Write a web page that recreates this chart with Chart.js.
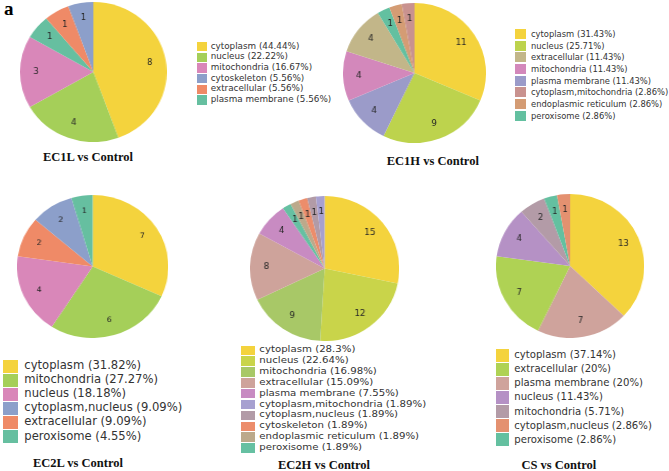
<!DOCTYPE html>
<html>
<head>
<meta charset="utf-8">
<script src="https://cdn.jsdelivr.net/npm/chart.js@4.4.1/dist/chart.umd.min.js"></script>
<style>
  html, body { margin: 0; padding: 0; background: #fff; }
  #page { position: relative; width: 669px; height: 471px; overflow: hidden; font-family: "DejaVu Sans", sans-serif; }
  .pie { position: absolute; transform-origin: left top; }
  .swatch { position: absolute; }
  .item { position: absolute; color: #333; white-space: nowrap; line-height: 1; transform-origin: left center; }
  .title { position: absolute; font-family: "Liberation Serif", serif; font-weight: bold; color: #111; white-space: nowrap; transform: translate(-50%, -50%); }
  #panel-a { position: absolute; left: 4px; top: -2px; font-family: "Liberation Serif", serif; font-weight: bold; font-size: 19px; }
</style>
</head>
<body>
<div id="page">
  <div id="panel-a">a</div>
</div>
<script>
// legend order for each comparison, counts per location
const ec1lLabels = ['cytoplasm', 'nucleus', 'mitochondria', 'cytoskeleton', 'extracellular', 'plasma membrane'];
const ec1lValues = [8, 4, 3, 1, 1, 1];
const ec1lColors = ['#f4d33d', '#a5cf59', '#d987b9', '#8c9fca', '#ef8a67', '#66bfa0'];

const ec1hLabels = ['cytoplasm', 'nucleus', 'extracellular', 'mitochondria', 'plasma membrane', 'cytoplasm,mitochondria', 'endoplasmic reticulum', 'peroxisome'];
const ec1hValues = [11, 9, 4, 4, 4, 1, 1, 1];
const ec1hColors = ['#f4d33d', '#bdd34d', '#c2b689', '#d388bb', '#9b9bc9', '#c9928f', '#d49c74', '#63c0a0'];

const ec2lLabels = ['cytoplasm', 'mitochondria', 'nucleus', 'cytoplasm,nucleus', 'extracellular', 'peroxisome'];
const ec2lValues = [7, 6, 4, 2, 2, 1];
const ec2lColors = ['#f4d33d', '#a5cf59', '#d987b9', '#8c9fca', '#ef8a67', '#66bfa0'];

const ec2hLabels = ['cytoplasm', 'nucleus', 'mitochondria', 'extracellular', 'plasma membrane', 'cytoplasm,mitochondria', 'cytoplasm,nucleus', 'cytoskeleton', 'endoplasmic reticulum', 'peroxisome'];
const ec2hValues = [15, 12, 9, 8, 4, 1, 1, 1, 1, 1];
const ec2hColors = ['#f4d33d', '#c9d44a', '#a8c867', '#cea39b', '#c88bc2', '#a7a0d0', '#b29ba7', '#ec8d6b', '#bca98b', '#66c0a2'];

const csLabels = ['cytoplasm', 'extracellular', 'plasma membrane', 'nucleus', 'mitochondria', 'cytoplasm,nucleus', 'peroxisome'];
const csValues = [13, 7, 7, 4, 2, 1, 1];
const csColors = ['#f4d33d', '#afd254', '#cfa39c', '#b591c5', '#b39ba7', '#e49170', '#64c0a0'];

const titles = ['EC1L vs Control', 'EC1H vs Control', 'EC2L vs Control', 'EC2H vs Control', 'CS vs Control'];

// layout for each panel (pie box, legend, title)
const panels = [
  { labels: ec1lLabels, values: ec1lValues, colors: ec1lColors,
    pie: { x: 20, y: 1.7, d: 140, w: 146.7 }, num: 8,
    leg: { sx: 196.7, sw: 10.7, sh: 9.5, y0: 46.7, step: 10.65, tx: 210.7, fs: 8.8, sy: 0.9 },
    title: { x: 88, y: 156.7, fs: 12.5 } },
  { labels: ec1hLabels, values: ec1hValues, colors: ec1hColors,
    pie: { x: 342.7, y: 3.3, d: 140, w: 143 }, num: 8.5,
    leg: { sx: 514.7, sw: 11, sh: 10, y0: 34, step: 11.67, tx: 531, fs: 8.4, sy: 1 },
    title: { x: 432.8, y: 161, fs: 12.5 } },
  { labels: ec2lLabels, values: ec2lValues, colors: ec2lColors,
    pie: { x: 16.7, y: 195, d: 143.3, w: 151.7 }, num: 7.5,
    leg: { sx: 2.7, sw: 15.6, sh: 13, y0: 366, step: 14.1, tx: 24.3, fs: 11.6, sy: 1 },
    title: { x: 78, y: 462.7, fs: 12.5 } },
  { labels: ec2hLabels, values: ec2hValues, colors: ec2hColors,
    pie: { x: 250, y: 196, d: 145, w: 149.3 }, num: 8.5,
    leg: { sx: 240.7, sw: 14.3, sh: 9.5, y0: 350.3, step: 10.85, tx: 259.3, fs: 10.2, sy: 0.85 },
    title: { x: 324, y: 465.3, fs: 12.5 } },
  { labels: csLabels, values: csValues, colors: csColors,
    pie: { x: 496, y: 194.3, d: 144, w: 148.3 }, num: 8,
    leg: { sx: 495.7, sw: 13.3, sh: 12.5, y0: 355.3, step: 14.05, tx: 514.3, fs: 10.1, sy: 1 },
    title: { x: 558.8, y: 465.3, fs: 12.5 } }
];

// draws the count inside each slice
const sliceNumbers = {
  id: 'sliceNumbers',
  afterDatasetsDraw(chart, args, opts) {
    const ctx = chart.ctx;
    const meta = chart.getDatasetMeta(0);
    const vals = chart.data.datasets[0].data;
    ctx.save();
    ctx.font = opts.size + 'px "DejaVu Sans"';
    ctx.fillStyle = '#262626';
    ctx.textAlign = 'center';
    ctx.textBaseline = 'middle';
    meta.data.forEach((arc, i) => {
      const p = arc.getProps(['x', 'y', 'startAngle', 'endAngle', 'outerRadius'], true);
      const mid = (p.startAngle + p.endAngle) / 2;
      const r = p.outerRadius * opts.dist;
      ctx.fillText(vals[i], p.x + Math.cos(mid) * r, p.y + Math.sin(mid) * r);
    });
    ctx.restore();
  }
};

function pct(v, total) {
  return Number((v / total * 100).toFixed(2)) + '%';
}

const page = document.getElementById('page');

panels.forEach((pn, k) => {
  const total = pn.values.reduce((a, b) => a + b, 0);

  // slices go clockwise from 12 o'clock, largest first; ties in reverse legend order
  const order = pn.values.map((v, i) => i)
    .sort((a, b) => (pn.values[b] - pn.values[a]) || (b - a));

  const wrap = document.createElement('div');
  wrap.className = 'pie';
  wrap.style.left = pn.pie.x + 'px';
  wrap.style.top = pn.pie.y + 'px';
  wrap.style.width = pn.pie.d + 'px';
  wrap.style.height = pn.pie.d + 'px';
  wrap.style.transform = 'scaleX(' + (pn.pie.w / pn.pie.d) + ')';
  const canvas = document.createElement('canvas');
  canvas.width = pn.pie.d;
  canvas.height = pn.pie.d;
  wrap.appendChild(canvas);
  page.appendChild(wrap);

  new Chart(canvas, {
    type: 'pie',
    data: {
      labels: order.map(i => pn.labels[i]),
      datasets: [{
        data: order.map(i => pn.values[i]),
        backgroundColor: order.map(i => pn.colors[i]),
        borderWidth: 0
      }]
    },
    options: {
      responsive: false,
      animation: false,
      layout: { padding: 0 },
      plugins: {
        legend: { display: false },
        tooltip: { enabled: false },
        sliceNumbers: { size: pn.num, dist: 0.78 }
      }
    },
    plugins: [sliceNumbers]
  });

  // legend
  const lg = pn.leg;
  pn.labels.forEach((name, i) => {
    const cy = lg.y0 + i * lg.step;
    const sw = document.createElement('div');
    sw.className = 'swatch';
    sw.style.left = lg.sx + 'px';
    sw.style.top = (cy - lg.sh / 2) + 'px';
    sw.style.width = lg.sw + 'px';
    sw.style.height = lg.sh + 'px';
    sw.style.background = pn.colors[i];
    page.appendChild(sw);

    const tx = document.createElement('div');
    tx.className = 'item';
    tx.style.left = lg.tx + 'px';
    tx.style.top = cy + 'px';
    tx.style.fontSize = lg.fs + 'px';
    tx.style.transform = 'translateY(-50%) scaleY(' + lg.sy + ')';
    tx.textContent = name + ' (' + pct(pn.values[i], total) + ')';
    page.appendChild(tx);
  });

  const t = document.createElement('div');
  t.className = 'title';
  t.style.left = pn.title.x + 'px';
  t.style.top = pn.title.y + 'px';
  t.style.fontSize = pn.title.fs + 'px';
  t.textContent = titles[k];
  page.appendChild(t);
});
</script>
</body>
</html>
